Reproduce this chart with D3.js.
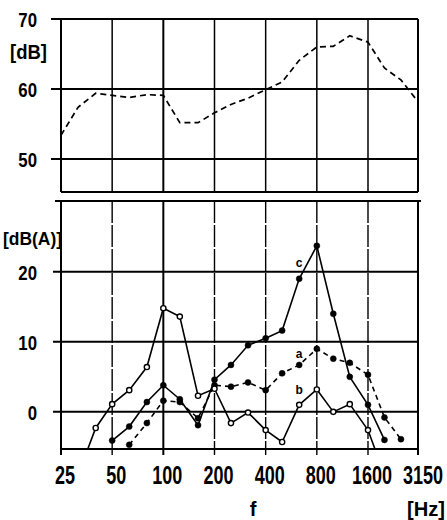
<!DOCTYPE html>
<meta charset="utf-8">
<title>Third-octave spectrum</title>
<style>

body {
  margin: 0;
  background: #fff;
}

text {
  font-family: "Liberation Sans", Arial, sans-serif;
  font-weight: bold;
  fill: #000;
}

line {
  stroke: #000;
}

</style>
<body>
<script src="https://d3js.org/d3.v7.min.js"></script>
<script>

// third-octave band centres
var freqs = [25, 31.5, 40, 50, 63, 80, 100, 125, 160, 200, 250, 315, 400, 500, 630, 800, 1000, 1250, 1600, 2000, 2500, 3150];

var tickFreqs = [25, 50, 100, 200, 400, 800, 1600, 3150];
var tickLabels = ["25", "50", "100", "200", "400", "800", "1600", "3150"];

var topTicks = [50, 60, 70];
var bottomTicks = [0, 10, 20];

// upper panel, [dB]
var levelTotal = [53.4, 57.4, 59.4, 59.1, 58.8, 59.2, 59.1, 55.2, 55.2, 56.6, 57.8, 58.7, 59.9, 61.0, 64.1, 66.0, 66.1, 67.6, 66.7, 63.0, 61.3, 58.2];

// lower panel, [dB(A)]
var seriesA = [null, null, null, null, -4.7, -1.6, 1.6, 1.4, -0.9, 3.8, 3.6, 4.2, 3.1, 5.5, 6.7, 9.0, 7.6, 7.0, 5.3, -0.8, -3.9, null];
var seriesB = [null, -9, -2.3, 1.1, 3.1, 6.4, 14.8, 13.6, 2.3, 3.3, -1.6, -0.1, -2.6, -4.3, 1.0, 3.2, 0, 1.1, -2.6, -9, null, null];
var seriesC = [null, null, null, -4.1, -2.1, 1.4, 3.8, 1.8, -1.9, 4.6, 6.7, 9.5, 10.5, 11.6, 19.0, 23.7, 14.0, 5.0, 1.0, -4.0, null, null];

var w = 447,
    h = 520;

var svg = d3.select("body").append("svg")
    .attr("width", w)
    .attr("height", h);

var x = d3.scaleLog().domain([25, 3150]).range([61, 418]);
var yTop = d3.scaleLinear().domain([45.3, 70]).range([192, 19]);
var yBot = d3.scaleLinear().domain([-5.3, 30.1]).range([449, 201]);

var x0 = x.range()[0], x1 = x.range()[1];

// ---- upper panel frame and grid
var gTop = svg.append("g");

gTop.selectAll("line.v")
    .data(tickFreqs.slice(1, -1))
  .enter().append("line")
    .attr("x1", x).attr("x2", x)
    .attr("y1", yTop(70)).attr("y2", yTop.range()[0])
    .style("stroke-width", function(d) { return d == 100 ? 2 : 1.5; });

gTop.selectAll("line.h")
    .data(topTicks)
  .enter().append("line")
    .attr("x1", x0 - 10).attr("x2", x1)
    .attr("y1", yTop).attr("y2", yTop)
    .style("stroke-width", 2);

gTop.append("line").attr("x1", x0).attr("x2", x0).attr("y1", yTop(70)).attr("y2", yTop.range()[0]).style("stroke-width", 2);
gTop.append("line").attr("x1", x1).attr("x2", x1).attr("y1", yTop(70)).attr("y2", yTop.range()[0]).style("stroke-width", 2);
gTop.append("line").attr("x1", x0).attr("x2", x1).attr("y1", yTop.range()[0]).attr("y2", yTop.range()[0]).style("stroke-width", 1.8);

// narrow printed digits: squeeze horizontally with a transform
gTop.selectAll("text.tick")
    .data(topTicks)
  .enter().append("text")
    .attr("transform", function(d) { return "translate(37," + (yTop(d) + 8) + ")scale(0.8,1)"; })
    .attr("text-anchor", "end")
    .style("font-size", "21px")
    .text(function(d) { return d; });

gTop.append("text")
    .attr("x", 10).attr("y", 59)
    .attr("textLength", 37).attr("lengthAdjust", "spacingAndGlyphs")
    .style("font-size", "20px")
    .text("[dB]");

var lineTop = d3.line()
    .x(function(d, i) { return x(freqs[i]); })
    .y(function(d) { return yTop(d); });

gTop.append("path")
    .datum(levelTotal)
    .attr("d", lineTop)
    .style("fill", "none")
    .style("stroke", "#000")
    .style("stroke-width", 1.7)
    .style("stroke-dasharray", "6,4");

// ---- lower panel frame and grid
var gBot = svg.append("g");
var yb0 = yBot.range()[0], yb1 = yBot.range()[1];

gBot.selectAll("line.v")
    .data(tickFreqs)
  .enter().append("line")
    .attr("x1", x).attr("x2", x)
    .attr("y1", yb1).attr("y2", yb0 + 6)
    .style("stroke-width", function(d) { return (d == 25 || d == 3150 || d == 100) ? 2 : 1.4; })
    .style("stroke-dasharray", function(d) { return (d == 25 || d == 3150 || d == 100) ? null : "22,2"; });

gBot.selectAll("line.h")
    .data(bottomTicks)
  .enter().append("line")
    .attr("x1", x0 - 8).attr("x2", x1)
    .attr("y1", yBot).attr("y2", yBot)
    .style("stroke-width", 2);

gBot.append("line").attr("x1", x0 - 6).attr("x2", x1 + 3).attr("y1", yb1).attr("y2", yb1).style("stroke-width", 2);
gBot.append("line").attr("x1", x0).attr("x2", x1).attr("y1", yb0).attr("y2", yb0).style("stroke-width", 2);

gBot.selectAll("text.tick")
    .data(bottomTicks)
  .enter().append("text")
    .attr("transform", function(d) { return "translate(37," + (yBot(d) + 8) + ")scale(0.8,1)"; })
    .attr("text-anchor", "end")
    .style("font-size", "21px")
    .text(function(d) { return d; });

gBot.append("text")
    .attr("x", 3).attr("y", 245)
    .attr("textLength", 59).attr("lengthAdjust", "spacingAndGlyphs")
    .style("font-size", "19px")
    .text("[dB(A)]");

gBot.selectAll("text.xt")
    .data(tickFreqs)
  .enter().append("text")
    .attr("transform", function(d) {
      return "translate(" + (d == 3150 ? w - 4 : x(d) + 4) + ",484)scale(0.72,1)";
    })
    .attr("text-anchor", function(d) { return d == 3150 ? "end" : "middle"; })
    .style("font-size", "25px")
    .text(function(d, i) { return tickLabels[i]; });

svg.append("text")
    .attr("x", 253).attr("y", 516)
    .attr("text-anchor", "middle")
    .style("font-size", "20px")
    .text("f");

svg.append("text")
    .attr("x", 407).attr("y", 516)
    .attr("textLength", 38).attr("lengthAdjust", "spacingAndGlyphs")
    .style("font-size", "20px")
    .text("[Hz]");

// ---- lower panel series
svg.append("clipPath").attr("id", "clip")
  .append("rect")
    .attr("x", x0).attr("y", yb1)
    .attr("width", x1 - x0).attr("height", yb0 - yb1);

var lineBot = d3.line()
    .defined(function(d) { return d != null; })
    .x(function(d, i) { return x(freqs[i]); })
    .y(function(d) { return yBot(d); });

var series = [
  {name: "a", values: seriesA, dash: "5,4", open: false, dy: -11},
  {name: "b", values: seriesB, dash: null, open: true, dy: -15},
  {name: "c", values: seriesC, dash: null, open: false, dy: -16}
];

var gS = svg.append("g").attr("clip-path", "url(#clip)");

series.forEach(function(s) {
  gS.append("path")
      .datum(s.values)
      .attr("d", lineBot)
      .style("fill", "none")
      .style("stroke", "#000")
      .style("stroke-width", 1.6)
      .style("stroke-dasharray", s.dash);

  var pts = s.values.map(function(v, i) { return {f: freqs[i], v: v}; })
      .filter(function(p) { return p.v != null && p.v > yBot.domain()[0]; });

  gS.selectAll(null)
      .data(pts)
    .enter().append("circle")
      .attr("cx", function(p) { return x(p.f); })
      .attr("cy", function(p) { return yBot(p.v); })
      .attr("r", s.open ? 2.6 : 3)
      .style("fill", s.open ? "#fff" : "#000")
      .style("stroke", "#000")
      .style("stroke-width", s.open ? 1.4 : 0.5);

  svg.append("text")
      .attr("x", x(630))
      .attr("y", yBot(s.values[14]) + s.dy + 4)
      .attr("text-anchor", "middle")
      .style("font-size", "12px")
      .text(s.name);
});

</script>
